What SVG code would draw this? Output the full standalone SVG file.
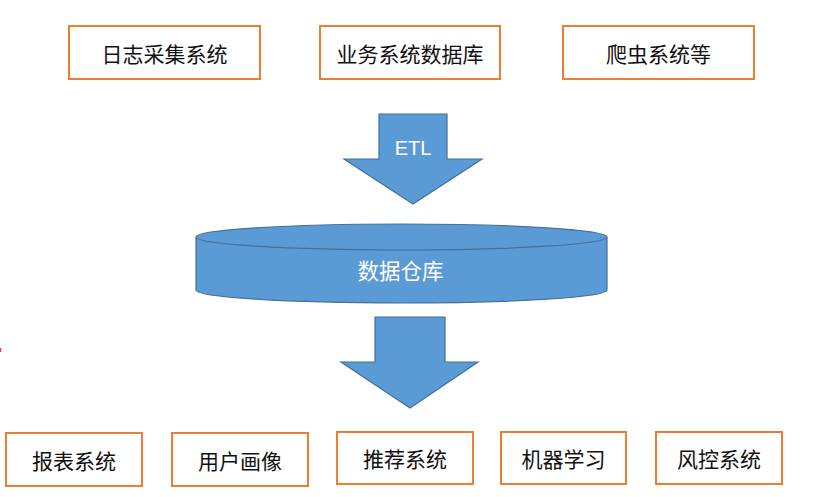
<svg xmlns="http://www.w3.org/2000/svg" width="822" height="497" viewBox="0 0 822 497">
<style>
.box{fill:#fff;stroke:#ED7D31;stroke-width:2}
.lbl{font-family:"Noto Sans CJK SC","Liberation Sans",sans-serif;font-size:21px;fill:#111;text-anchor:middle;dominant-baseline:central}
.shape{fill:#5B9BD5;stroke:#41719C;stroke-width:1.2}
.wt{font-family:"Liberation Sans","Noto Sans CJK SC",sans-serif;font-size:20px;fill:#fff;text-anchor:middle;dominant-baseline:central}
</style>
<rect width="822" height="497" fill="#fff"/>
<g id="src1"><rect class="box" x="69" y="26" width="191" height="53"/><text class="lbl" x="164.5" y="52.5">日志采集系统</text></g>
<g id="src2"><rect class="box" x="320" y="26" width="180" height="53"/><text class="lbl" x="410" y="52.5">业务系统数据库</text></g>
<g id="src3"><rect class="box" x="563" y="26" width="191" height="53"/><text class="lbl" x="658.5" y="52.5">爬虫系统等</text></g>
<g id="connectors">
<g id="etl"><path class="shape" d="M379,114 H447 V159 H482 L413,204 L344,159 H379 Z"/><text class="wt" x="413" y="148">ETL</text></g>
<g id="out"><path class="shape" d="M375,317 H445 V362 H478 L410,408 L341,362 H375 Z"/></g>
</g>
<g id="dw">
<path class="shape" d="M196,237 V290 A205.5,13 0 0 0 607,290 V237"/>
<ellipse class="shape" cx="401.5" cy="237" rx="205.5" ry="13"/>
<text class="wt" x="400.5" y="269" style="font-family:'Noto Sans CJK SC',sans-serif;font-size:21.5px">数据仓库</text>
</g>
<g id="app1"><rect class="box" x="6" y="433" width="136" height="53"/><text class="lbl" x="74" y="459.5">报表系统</text></g>
<g id="app2"><rect class="box" x="172" y="433" width="136" height="53"/><text class="lbl" x="240" y="459.5">用户画像</text></g>
<g id="app3"><rect class="box" x="337" y="432" width="136" height="52"/><text class="lbl" x="405" y="458">推荐系统</text></g>
<g id="app4"><rect class="box" x="501" y="432" width="125" height="52"/><text class="lbl" x="563.5" y="458">机器学习</text></g>
<g id="app5"><rect class="box" x="656" y="432" width="126" height="52"/><text class="lbl" x="719" y="458">风控系统</text></g>
<rect x="0" y="348" width="1.2" height="4" fill="#f33"/>
</svg>
